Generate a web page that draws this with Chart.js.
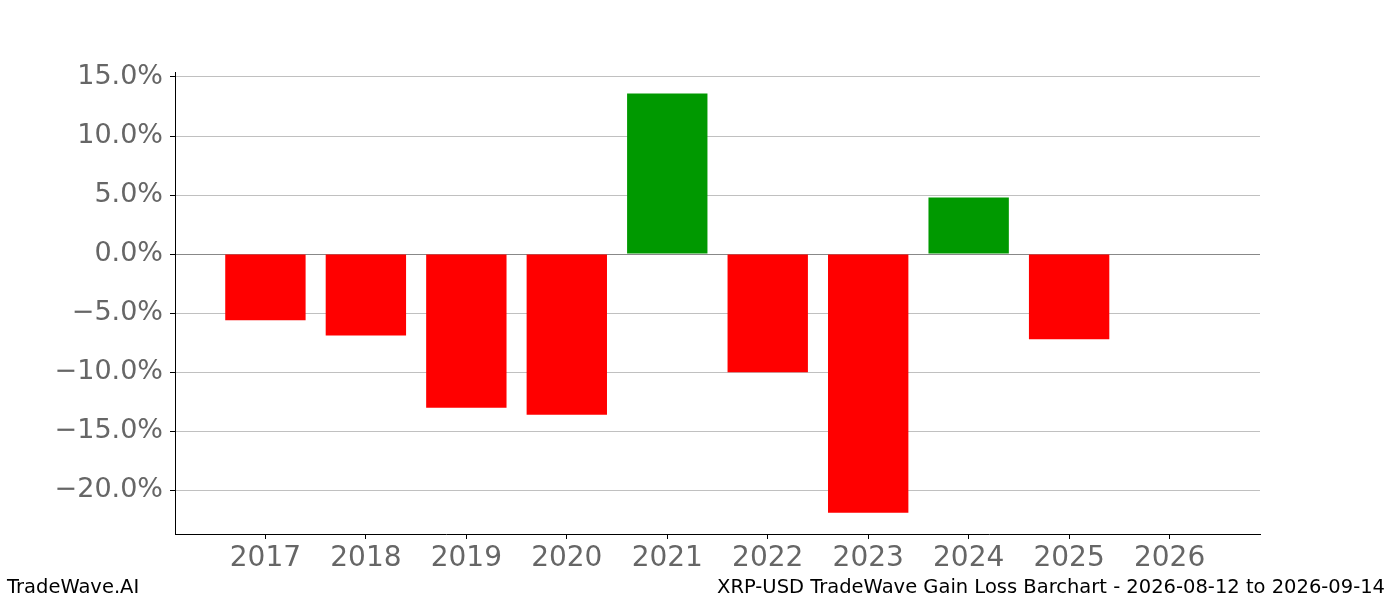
<!DOCTYPE html>
<html>
<head>
<meta charset="utf-8">
<script src="https://cdn.jsdelivr.net/npm/chart.js@4"></script>
<style>
    body { margin: 0; background: #fff; }
    #wrap { position: relative; width: 1400px; height: 600px; }
    .foot { position: absolute; top: 575px; font: 19.5px "DejaVu Sans", sans-serif; color: #000; white-space: nowrap; }
</style>
</head>
<body>
<div id="wrap">
    <canvas id="myChart" width="1400" height="600"></canvas>
    <div class="foot" style="left:7px">TradeWave.AI</div>
    <div class="foot" style="right:15px">XRP-USD TradeWave Gain Loss Barchart - 2026-08-12 to 2026-09-14</div>
</div>
<script>
// yearly gain/loss in percent
const years = [2017, 2018, 2019, 2020, 2021, 2022, 2023, 2024, 2025, 2026];
const gains = [-5.6, -6.9, -13.0, -13.6, 13.6, -10.0, -21.9, 4.8, -7.2, null];
const yTicks = [-20, -15, -10, -5, 0, 5, 10, 15];

const points = years.map((y, i) => ({x: y, y: gains[i]}));
const colors = gains.map(v => v >= 0 ? "#009900" : "#ff0000");

const ctx = document.getElementById("myChart").getContext("2d");
let gainChart = new Chart(ctx, {
    type: "bar",
    data: {
        datasets: [{
            data: points,
            backgroundColor: colors,
            borderWidth: 0,
            barPercentage: 0.8,
            categoryPercentage: 1.0,
        }],
    },
    options: {
        responsive: false,
        animation: false,
        layout: {padding: {left: 0, right: 140, top: 72, bottom: 0}},
        plugins: {legend: {display: false}, tooltip: {enabled: false}},
        scales: {
            x: {
                type: "linear",
                min: 2016.1,
                max: 2026.9,
                offset: false,
                afterBuildTicks: axis => { axis.ticks = years.map(v => ({value: v})); },
                afterFit: axis => { axis.height = 66; },
                grid: {offset: false, drawOnChartArea: false, drawTicks: true, tickLength: 5, tickColor: "#000"},
                border: {display: true, color: "#000", width: 1},
                ticks: {
                    color: "#666",
                    padding: 3,
                    font: {family: "DejaVu Sans", size: 28},
                    callback: v => String(v),
                },
            },
            y: {
                min: -23.7,
                max: 15.42,
                afterBuildTicks: axis => { axis.ticks = yTicks.map(v => ({value: v})); },
                afterFit: axis => { axis.width = 175; },
                grid: {
                    color: c => c.tick && c.tick.value === 0 ? "#888" : "#c0c0c0",
                    lineWidth: 1,
                    tickLength: 5,
                    tickColor: "#000",
                },
                border: {display: true, color: "#000", width: 1},
                ticks: {
                    color: "#666",
                    padding: 7,
                    font: {family: "DejaVu Sans", size: 27},
                    callback: v => (v < 0 ? "\u2212" : "") + Math.abs(v).toFixed(1) + "%",
                },
            },
        },
    },
});
</script>
</body>
</html>
